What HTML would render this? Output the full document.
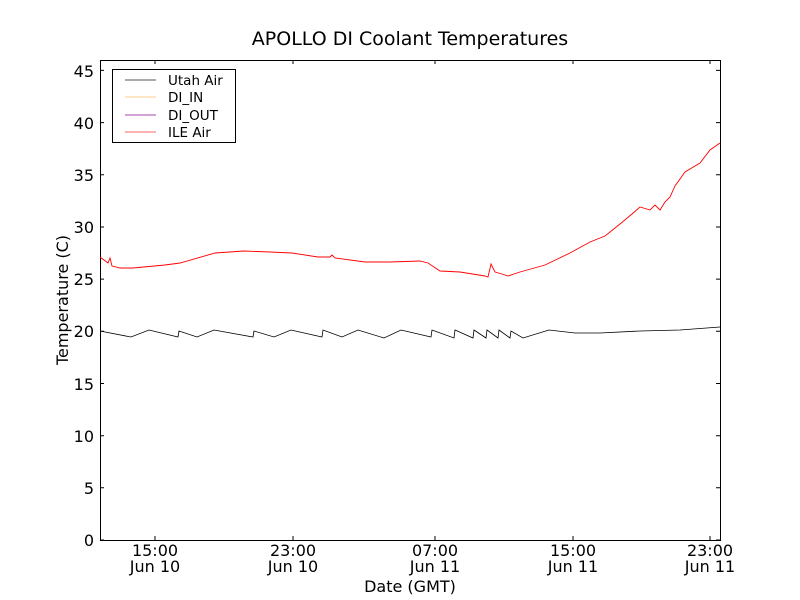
<!DOCTYPE html>
<html><head><meta charset="utf-8"><style>
body{margin:0;background:#fff}
svg{display:block;font-family:"DejaVu Sans","Liberation Sans",sans-serif}
</style></head><body>
<svg width="800" height="600" viewBox="0 0 800 600">
<rect width="800" height="600" fill="#fff"/>
<text x="410" y="45" font-size="19" text-anchor="middle">APOLLO DI Coolant Temperatures</text>
<g stroke="#000" stroke-width="1" fill="none">
<rect x="100.5" y="60.5" width="620" height="480"/>
<path d="M100 540h4M720 540h-4M100 487.8h4M720 487.8h-4M100 435.7h4M720 435.7h-4M100 383.5h4M720 383.5h-4M100 331.3h4M720 331.3h-4M100 279.1h4M720 279.1h-4M100 227h4M720 227h-4M100 174.8h4M720 174.8h-4M100 122.6h4M720 122.6h-4M100 70.4h4M720 70.4h-4"/>
<path d="M155 540v-4M155 60v4M293 540v-4M293 60v4M435 540v-4M435 60v4M573 540v-4M573 60v4M710 540v-4M710 60v4"/>
</g>
<g font-size="16" text-anchor="end">
<text x="94" y="546">0</text><text x="94" y="494">5</text><text x="94" y="442">10</text><text x="94" y="390">15</text><text x="94" y="337">20</text><text x="94" y="285">25</text><text x="94" y="233">30</text><text x="94" y="181">35</text><text x="94" y="129">40</text><text x="94" y="77">45</text>
</g>
<g font-size="16" text-anchor="middle">
<text x="155" y="556">15:00</text><text x="155" y="572">Jun 10</text>
<text x="293" y="556">23:00</text><text x="293" y="572">Jun 10</text>
<text x="435" y="556">07:00</text><text x="435" y="572">Jun 11</text>
<text x="573" y="556">15:00</text><text x="573" y="572">Jun 11</text>
<text x="710" y="556">23:00</text><text x="710" y="572">Jun 11</text>
<text x="410" y="592">Date (GMT)</text>
</g>
<text transform="translate(68,300) rotate(-90)" font-size="16" text-anchor="middle">Temperature (C)</text>
<polyline fill="none" stroke="#000" stroke-width="0.8" points="100,331 131,337 149,330 178,337 179,331 197,337 214,330 253,337 254,331 274,337 291,330 322,337 323,330 342,337 358,330 384,338 401,330 431,337 432,330 454,338 455,330 473,338 474,330 486,338 487,330 498,338 499,330 510,338 511,331 523,338 549,330 575,333 600,333 640,331 680,330 720,327"/>
<polyline fill="none" stroke="#f00" stroke-width="0.9" points="100,257 108,263 110,258 112,266 120,268 133,268 165,265 180,263 215,253 244,251 270,252 292,253 318,257 330,257 332,255 335,258 365,262 390,262 420,261 428,263 440,271 460,272 485,276 488,277 491,264 495,272 502,274 508,276 520,272 545,265 570,253 590,242 605,236 620,224 632,214 640,207 650,210 655,205 660,210 665,202 670,197 675,186 685,172 700,163 710,150 720,143"/>
<rect x="112.5" y="69.5" width="123" height="73" fill="#fff" stroke="#000"/>
<g stroke-width="1">
<line x1="125" y1="80" x2="156" y2="80" stroke="#555"/>
<line x1="125" y1="97" x2="156" y2="97" stroke="#fc8"/>
<line x1="125" y1="115" x2="156" y2="115" stroke="#a4a"/>
<line x1="125" y1="132" x2="156" y2="132" stroke="#f66"/>
</g>
<g font-size="13.5">
<text x="168" y="85">Utah Air</text>
<text x="168" y="102">DI_IN</text>
<text x="168" y="120">DI_OUT</text>
<text x="168" y="137">ILE Air</text>
</g>
</svg>
</body></html>
